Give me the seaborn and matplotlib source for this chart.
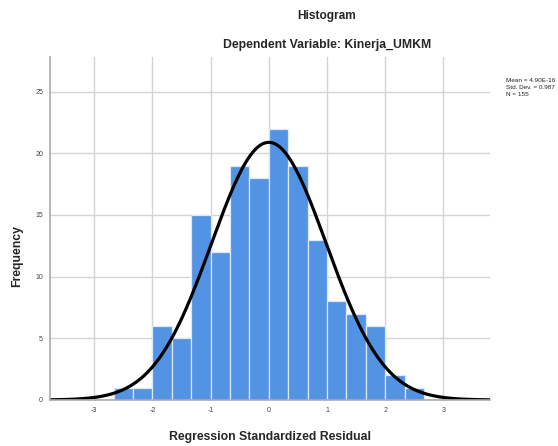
import numpy as np
import pandas as pd
import matplotlib
matplotlib.use("Agg")
import matplotlib.pyplot as plt
import seaborn as sns

# Data
bin_edges = [-8/3, -7/3, -6/3, -5/3, -4/3, -3/3, -2/3, -1/3, 0, 1/3, 2/3, 3/3, 4/3, 5/3, 6/3, 7/3, 8/3]
counts = [1, 1, 6, 5, 15, 12, 19, 18, 22, 19, 13, 8, 7, 6, 2, 1]
mean_val = 4.90e-16
std_val = 0.987
n_val = 155
x_ticks = [-3, -2, -1, 0, 1, 2, 3]
y_ticks = [0, 5, 10, 15, 20, 25]
legend_lines = ["Mean = 4.90E-16", "Std. Dev. = 0.987", "N = 155"]

sns.set_theme(style="white")
plt.rcParams['font.family'] = ['Arial', 'Liberation Sans', 'DejaVu Sans']

centers = [(bin_edges[i] + bin_edges[i + 1]) / 2 for i in range(len(counts))]
df = pd.DataFrame({"residual": centers, "count": counts})

fig = plt.figure(figsize=(5.58, 4.46), dpi=100)
ax = fig.add_axes([50/558, 46/446, 440/558, 343/446])

ax.set_axisbelow(True)
ax.grid(True, color="#d4d4d4", linewidth=1.0)

sns.histplot(data=df, x="residual", weights="count", bins=bin_edges, ax=ax,
             color="#5393e3", alpha=1.0, edgecolor="#dce8f7", linewidth=0.9)

xlim = (-3.76, 3.8)
xs = np.linspace(xlim[0], xlim[1], 400)
bw = bin_edges[1] - bin_edges[0]
ys = n_val * bw * np.exp(-0.5 * ((xs - mean_val) / std_val) ** 2) / (std_val * np.sqrt(2 * np.pi))
sns.lineplot(x=xs, y=ys, ax=ax, color="black", linewidth=2.3)

ax.set_xlim(*xlim)
ax.set_ylim(0, 27.8)
ax.set_xticks(x_ticks)
ax.set_yticks(y_ticks)
ax.set_xticklabels([str(t) for t in x_ticks])
ax.set_yticklabels([str(t) for t in y_ticks])
ax.tick_params(axis="both", labelsize=5, colors="#444444", length=0, pad=5)

for s in ["top", "right"]:
    ax.spines[s].set_visible(False)
for s in ["left", "bottom"]:
    ax.spines[s].set_color("#aaaaaa")
    ax.spines[s].set_linewidth(1.2)

ax.set_xlabel("Regression Standardized Residual", fontsize=8.8, fontweight="bold")
ax.xaxis.set_label_coords(0.5, -(431 - 400) / 343)
ax.set_ylabel("Frequency", fontsize=8.8, fontweight="bold")
ax.yaxis.set_label_coords(-(50 - 18 - 5) / 440, 0.42)

fig.text(327/558, 1 - 16/446, "Histogram", ha="center", va="center", fontsize=8.6, fontweight="bold")
fig.text(327/558, 1 - 45/446, "Dependent Variable: Kinerja_UMKM", ha="center", va="center", fontsize=8.8, fontweight="bold")

for i, line in enumerate(legend_lines):
    fig.text(506/558, 1 - (80 + 7.5 * i)/446, line, ha="left", va="center", fontsize=4.6, color="#222222")

fig.savefig("out.png", dpi=100)
